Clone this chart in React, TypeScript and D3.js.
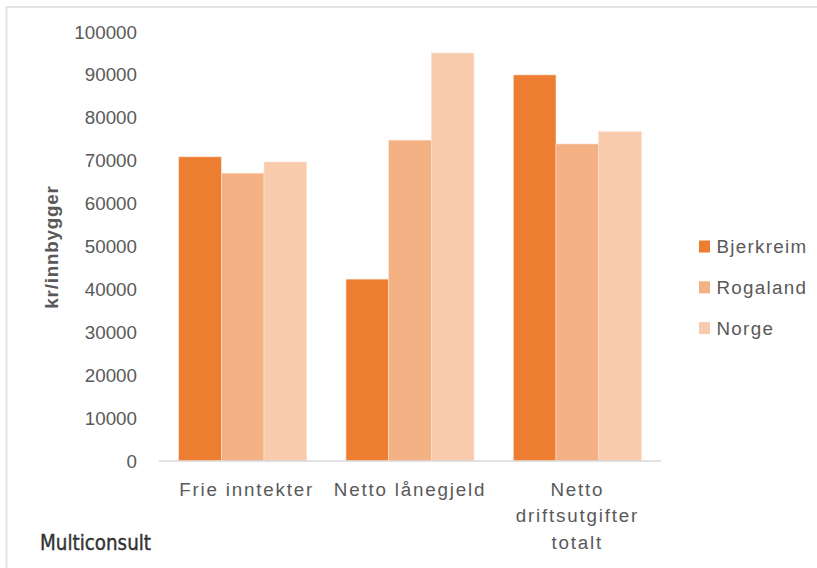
import React from "react";
import * as d3 from "d3";

const categories: string[][] = [["Frie inntekter"], ["Netto lånegjeld"], ["Netto", "driftsutgifter", "totalt"]];
const seriesNames = ["Bjerkreim", "Rogaland", "Norge"];
const bjerkreim = [70900, 42400, 90000];
const rogaland = [67100, 74800, 73900];
const norge = [69700, 95100, 76800];
const colors = ["#ED7D31", "#F4B183", "#F8CBAD"];
const yTicks = [0, 10000, 20000, 30000, 40000, 50000, 60000, 70000, 80000, 90000, 100000];

const W = 817;
const H = 568;
const FONT = "'Liberation Sans', Arial, sans-serif";

export default function App() {
  const series = [bjerkreim, rogaland, norge];
  const x0 = d3
    .scaleBand<number>()
    .domain(categories.map((_, i) => i))
    .range([159, 661])
    .paddingInner(0.235)
    .paddingOuter(0.1175);
  const x1 = d3
    .scaleBand<number>()
    .domain(seriesNames.map((_, i) => i))
    .range([0, x0.bandwidth()]);
  const y = d3.scaleLinear().domain([0, 100000]).range([461, 32]);

  return (
    <svg
      width={W}
      height={H}
      style={{ position: "absolute", left: 0, top: 0, background: "#fff" }}
      fontFamily={FONT}
    >
      <rect x={0} y={0} width={W} height={H} fill="#fff" />
      {/* chart border */}
      <path d={`M6.5,${H + 5} V7 H${W + 5}`} fill="none" stroke="#e2e2e2" strokeWidth={2} />

      {/* y tick labels */}
      {yTicks.map((t) => (
        <text
          key={t}
          x={137}
          y={y(t)}
          dy="0.35em"
          textAnchor="end"
          fontSize={18.8}
          fill="#595959"
        >
          {t}
        </text>
      ))}

      {/* bars */}
      {categories.map((_, ci) => (
        <g key={ci} transform={`translate(${x0(ci)},0)`}>
          {series.map((s, si) => (
            <rect
              key={si}
              x={x1(si)}
              y={y(s[ci])}
              width={x1.bandwidth()}
              height={y(0) - y(s[ci])}
              fill={colors[si]}
              stroke="#fbe3d3"
              strokeWidth={0.6}
            />
          ))}
        </g>
      ))}

      {/* x axis line */}
      <line x1={159} x2={661} y1={461} y2={461} stroke="#d9d9d9" strokeWidth={1.5} />

      {/* category labels */}
      {categories.map((lines, ci) => {
        const cx = (x0(ci) as number) + x0.bandwidth() / 2 + (ci === 0 ? 4 : 0);
        return (
          <text
            key={ci}
            x={cx}
            y={489}
            textAnchor="middle"
            fontSize={18.8}
            fill="#595959"
            letterSpacing={1.8}
          >
            {lines.map((l, li) => (
              <tspan key={li} x={cx} dy={li === 0 ? "0.35em" : 26.5}>
                {l}
              </tspan>
            ))}
          </text>
        );
      })}

      {/* y axis title */}
      <text
        transform={`translate(58,247) rotate(-90)`}
        textAnchor="middle"
        fontSize={18.8}
        fontWeight="bold"
        fill="#595959"
        letterSpacing={0.8}
      >
        kr/innbygger
      </text>

      {/* legend */}
      {seriesNames.map((n, i) => (
        <g key={n} transform={`translate(699,${246.5 + i * 40.8})`}>
          <rect x={0} y={-6} width={11} height={12} fill={colors[i]} />
          <text x={17.5} y={0} dy="0.35em" fontSize={18.8} fill="#595959" letterSpacing={1.3}>
            {n}
          </text>
        </g>
      ))}

      {/* logo */}
      <text
        x={40}
        y={550}
        fontSize={21}
        fontFamily="'DejaVu Sans Condensed', 'DejaVu Sans', sans-serif"
        fill="#333333"
        stroke="#333333"
        strokeWidth={0.4}
        textLength={111}
        lengthAdjust="spacingAndGlyphs"
      >
        Multiconsult
      </text>
    </svg>
  );
}
